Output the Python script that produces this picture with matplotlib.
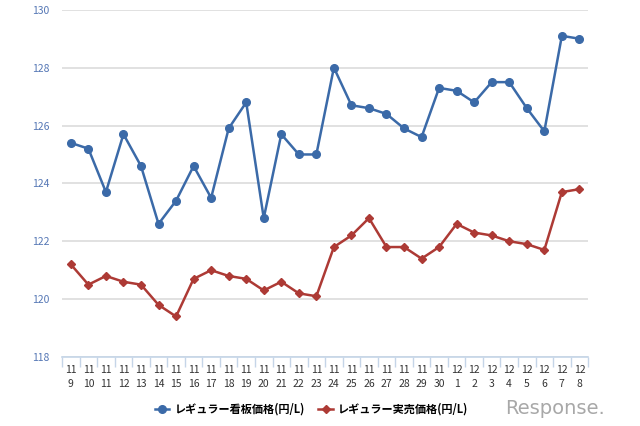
import matplotlib
matplotlib.use('Agg')
import matplotlib.pyplot as plt
from matplotlib.lines import Line2D
import numpy as np

plt.rcParams['font.family'] = ['Noto Sans CJK JP', 'DejaVu Sans']

months = [11] * 22 + [12] * 8
days = list(range(9, 31)) + list(range(1, 9))
labels = ['{}\n{}'.format(m, d) for m, d in zip(months, days)]

kanban = [125.4, 125.2, 123.7, 125.7, 124.6, 122.6, 123.4, 124.6, 123.5, 125.9,
          126.8, 122.8, 125.7, 125.0, 125.0, 128.0, 126.7, 126.6, 126.4, 125.9,
          125.6, 127.3, 127.2, 126.8, 127.5, 127.5, 126.6, 125.8, 129.1, 129.0]
jitsubai = [121.2, 120.5, 120.8, 120.6, 120.5, 119.8, 119.4, 120.7, 121.0, 120.8,
            120.7, 120.3, 120.6, 120.2, 120.1, 121.8, 122.2, 122.8, 121.8, 121.8,
            121.4, 121.8, 122.6, 122.3, 122.2, 122.0, 121.9, 121.7, 123.7, 123.8]

name_kanban = 'レギュラー看板価格(円/L)'
name_jitsubai = 'レギュラー実売価格(円/L)'

blue = '#3b6aa8'
red = '#ad3a35'


def main():
    fig = plt.figure(figsize=(6.4, 4.26), dpi=100)
    ax = fig.add_axes([0.097, 0.162, 0.822, 0.815])
    x = np.arange(len(labels))

    ax.plot(x, kanban, color=blue, lw=1.8, marker='o', ms=5.5, zorder=3)
    ax.plot(x, jitsubai, color=red, lw=1.8, marker='D', ms=3.8, zorder=3)

    ax.set_xlim(-0.5, len(labels) - 0.5)
    ax.set_ylim(118, 130)
    ax.set_yticks(range(118, 131, 2))
    ax.yaxis.grid(True, color='#dcdcdc', lw=1.2)
    ax.set_axisbelow(True)
    ax.tick_params(axis='y', length=0, labelsize=7.5, labelcolor='#5577b5', pad=9)

    ax.set_xticks(x)
    ax.set_xticklabels(labels, fontsize=7.5, color='#333333', linespacing=1.5)
    ax.set_xticks(np.arange(-0.5, len(labels)), minor=True)
    ax.tick_params(axis='x', which='major', length=0, pad=6)
    ax.tick_params(axis='x', which='minor', length=7, color='#c5d5e8', width=1)

    for s in ['top', 'right', 'left']:
        ax.spines[s].set_visible(False)
    ax.spines['bottom'].set_color('#c5d5e8')
    ax.spines['bottom'].set_linewidth(1.2)

    handles = [Line2D([], [], color=blue, lw=1.8, marker='o', ms=5.5),
               Line2D([], [], color=red, lw=1.8, marker='D', ms=3.8)]
    fig.legend(handles, [name_kanban, name_jitsubai], loc='center',
               bbox_to_anchor=(0.487, 0.04), ncol=2, frameon=False,
               prop={'size': 8, 'weight': 'bold'}, handlelength=1.3,
               columnspacing=1.2, handletextpad=0.5)

    fig.text(0.945, 0.04, 'Response.', ha='right', va='center', fontsize=14,
             color='#a8a8a8', family='DejaVu Sans')

    fig.savefig('out.png', dpi=100)


if __name__ == '__main__':
    main()
